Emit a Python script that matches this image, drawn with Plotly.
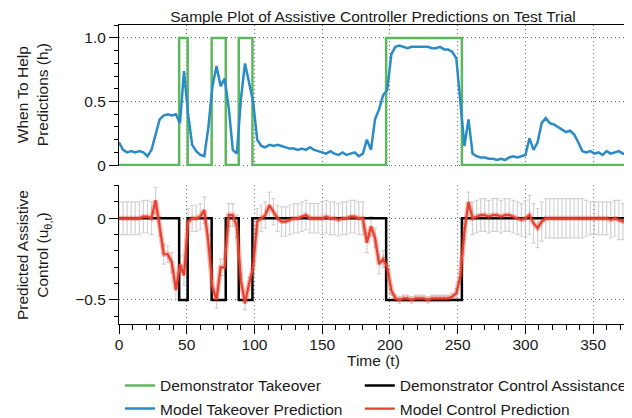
"""Sample plot of assistive controller predictions on a test trial."""

import plotly.graph_objects as go

_C_GREEN = "#5cb85c"
_C_BLUE = "#2a8bc8"
_C_RED = "#e5412f"
_C_RED_HALO = "rgba(229, 65, 47, 0.35)"
_C_BLACK = "#000000"
_C_ERR = "rgba(195, 195, 195, 0.75)"
_C_GRID = "#6e6e6e"
_FONT = dict(family="Liberation Sans, Arial, sans-serif", size=15.5, color="#1a1a1a")

# time steps (every 3rd sample of the trial)
t = list(range(0, 376, 3))

# when-to-help prediction h_t
takeover_pred = [
    0.18, 0.12, 0.10, 0.11, 0.10, 0.11, 0.10, 0.07, 0.12, 0.25,
    0.36, 0.39, 0.40, 0.39, 0.40, 0.33, 0.74, 0.40, 0.16, 0.11,
    0.08, 0.07, 0.30, 0.62, 0.78, 0.62, 0.68, 0.45, 0.12, 0.09,
    0.52, 0.80, 0.65, 0.50, 0.20, 0.15, 0.14, 0.16, 0.15, 0.16,
    0.15, 0.14, 0.13, 0.13, 0.12, 0.13, 0.12, 0.14, 0.12, 0.11,
    0.10, 0.09, 0.11, 0.09, 0.08, 0.10, 0.08, 0.09, 0.10, 0.07,
    0.09, 0.20, 0.12, 0.36, 0.44, 0.55, 0.59, 0.87, 0.93, 0.94,
    0.93, 0.92, 0.93, 0.93, 0.93, 0.93, 0.93, 0.92, 0.92, 0.93,
    0.91, 0.91, 0.89, 0.84, 0.46, 0.15, 0.36, 0.09, 0.07, 0.06,
    0.06, 0.05, 0.05, 0.04, 0.05, 0.04, 0.06, 0.07, 0.06, 0.07,
    0.08, 0.21, 0.12, 0.18, 0.33, 0.37, 0.33, 0.32, 0.30, 0.28,
    0.26, 0.27, 0.24, 0.18, 0.11, 0.10, 0.11, 0.09, 0.10, 0.08,
    0.11, 0.09, 0.10, 0.11, 0.09, 0.09,
]

# predicted assistive control u_theta,t and its spread
control_pred = [
    0.00, 0.00, 0.00, 0.00, 0.00, 0.00, 0.01, 0.01, 0.00, 0.11,
    -0.05, -0.22, -0.22, -0.27, -0.44, -0.28, -0.35, -0.02, 0.00, 0.00,
    0.01, 0.05, -0.15, -0.42, -0.50, -0.30, -0.30, 0.02, 0.02, -0.05,
    -0.38, -0.52, -0.40, -0.30, -0.02, 0.00, 0.02, 0.08, 0.04, 0.00,
    -0.02, -0.02, -0.01, 0.00, 0.00, 0.01, 0.02, 0.00, 0.00, 0.00,
    0.00, 0.01, 0.00, 0.00, -0.01, 0.00, 0.00, 0.01, 0.01, 0.00,
    0.00, -0.15, -0.05, -0.12, -0.28, -0.25, -0.30, -0.44, -0.49, -0.50,
    -0.49, -0.49, -0.50, -0.49, -0.49, -0.49, -0.50, -0.49, -0.49, -0.49,
    -0.49, -0.49, -0.48, -0.46, -0.35, -0.08, 0.10, 0.00, 0.01, 0.02,
    0.02, 0.01, 0.02, 0.02, 0.01, 0.02, 0.02, 0.01, 0.00, -0.01,
    0.00, 0.02, -0.03, -0.06, -0.02, 0.00, 0.00, 0.00, 0.00, 0.00,
    0.00, 0.00, 0.00, 0.00, 0.00, 0.00, 0.00, 0.00, 0.00, 0.00,
    0.00, -0.01, 0.00, -0.01, -0.02, 0.00,
]
control_err = [
    0.10, 0.10, 0.10, 0.10, 0.10, 0.10, 0.10, 0.10, 0.10, 0.08,
    0.06, 0.06, 0.05, 0.06, 0.06, 0.05, 0.06, 0.08, 0.08, 0.08,
    0.08, 0.08, 0.05, 0.05, 0.05, 0.05, 0.05, 0.07, 0.07, 0.07,
    0.04, 0.04, 0.04, 0.04, 0.08, 0.08, 0.08, 0.08, 0.08, 0.08,
    0.09, 0.09, 0.09, 0.09, 0.09, 0.09, 0.09, 0.09, 0.09, 0.09,
    0.10, 0.10, 0.10, 0.10, 0.10, 0.10, 0.10, 0.10, 0.10, 0.10,
    0.10, 0.06, 0.06, 0.06, 0.06, 0.05, 0.05, 0.03, 0.02, 0.02,
    0.02, 0.02, 0.02, 0.02, 0.02, 0.02, 0.02, 0.02, 0.02, 0.02,
    0.02, 0.02, 0.02, 0.03, 0.05, 0.05, 0.06, 0.10, 0.10, 0.10,
    0.10, 0.10, 0.10, 0.10, 0.10, 0.10, 0.10, 0.10, 0.10, 0.10,
    0.11, 0.12, 0.12, 0.12, 0.12, 0.12, 0.12, 0.12, 0.12, 0.12,
    0.12, 0.12, 0.12, 0.12, 0.12, 0.11, 0.10, 0.10, 0.10, 0.10,
    0.10, 0.11, 0.11, 0.12, 0.11, 0.10,
]

# demonstrator step signals (switch times)
demo_t = [0, 44.4, 50.7, 68.4, 78.8, 88.4, 98.5, 197.2, 253.1, 375]
demo_takeover = [0, 1, 0, 1, 0, 1, 0, 1, 0, 0]
demo_control = [0, -0.5, 0, -0.5, 0, -0.5, 0, -0.5, 0, 0]

fig = go.Figure()

fig.add_trace(go.Scatter(
    x=demo_t, y=demo_takeover, name="Demonstrator Takeover", legend="legend",
    mode="lines", line=dict(color=_C_GREEN, width=2.5, shape="hv"),
    xaxis="x", yaxis="y",
))
fig.add_trace(go.Scatter(
    x=t, y=takeover_pred, name="Model Takeover Prediction", legend="legend",
    mode="lines", line=dict(color=_C_BLUE, width=2.5),
    xaxis="x", yaxis="y",
))
# spread of the control prediction (drawn under the lines)
fig.add_trace(go.Scatter(
    x=t, y=control_pred, mode="markers", showlegend=False, hoverinfo="skip",
    marker=dict(size=1, color="rgba(0,0,0,0)"),
    error_y=dict(type="data", array=control_err, color=_C_ERR, thickness=1.2, width=2),
    xaxis="x2", yaxis="y2",
))
fig.add_trace(go.Scatter(
    x=demo_t, y=demo_control, name="Demonstrator Control Assistance", legend="legend2",
    mode="lines", line=dict(color=_C_BLACK, width=2.5, shape="hv"),
    xaxis="x2", yaxis="y2",
))
# soft halo under the control prediction
fig.add_trace(go.Scatter(
    x=t, y=control_pred, mode="lines", showlegend=False, hoverinfo="skip",
    line=dict(color=_C_RED_HALO, width=5),
    xaxis="x2", yaxis="y2",
))
fig.add_trace(go.Scatter(
    x=t, y=control_pred, name="Model Control Prediction", legend="legend2",
    mode="lines", line=dict(color=_C_RED, width=2.2),
    xaxis="x2", yaxis="y2",
))

_grid = dict(showgrid=True, gridcolor=_C_GRID, griddash="1px,3px", gridwidth=1, zeroline=False)
_legend = dict(
    orientation="v", xanchor="left", y=-0.15, yanchor="top",
    traceorder="normal", font=dict(size=15.5), bgcolor="rgba(0,0,0,0)",
    tracegroupgap=0, itemwidth=30,
)

# page body adds 8px of margin, so the figure is 8px smaller than the window
fig.update_layout(
    width=624, height=410,
    template="none",
    plot_bgcolor="white", paper_bgcolor="white",
    font=_FONT,
    margin=dict(l=111, r=5, t=17, b=94, autoexpand=False),
    title=dict(
        text="Sample Plot of Assistive Controller Predictions on Test Trial",
        x=0.5, xref="paper", xanchor="center", y=0.980, yanchor="middle",
        font=dict(size=15.5),
    ),
    xaxis=dict(
        domain=[0, 1], range=[0, 375], anchor="y", side="top",
        tickvals=[50, 100, 150, 200, 250, 300, 350], showticklabels=False, ticks="",
        showline=True, linecolor="#000", linewidth=1, **_grid,
    ),
    yaxis=dict(
        domain=[0.528, 1], range=[-0.008, 1.102], anchor="x",
        tickvals=[0, 0.5, 1.0], ticktext=["0", "0.5", "1.0"],
        ticks="outside", ticklen=9, tickcolor="#000", ticklabelstandoff=0,
        minor=dict(dtick=0.1, tick0=0, ticks="outside", ticklen=4, tickcolor="#000", showgrid=False),
        showline=True, linecolor="#000", linewidth=1, **_grid,
    ),
    xaxis2=dict(
        domain=[0, 1], range=[0, 375], anchor="y2",
        tickvals=[0, 50, 100, 150, 200, 250, 300, 350],
        ticks="outside", ticklen=9, tickcolor="#000", ticklabelstandoff=-3,
        minor=dict(dtick=10, tick0=0, ticks="outside", ticklen=5, tickcolor="#000", showgrid=False),
        showline=True, linecolor="#000", linewidth=1, **_grid,
    ),
    yaxis2=dict(
        domain=[0, 0.465], range=[-0.647, 0.204], anchor="x2",
        tickvals=[-0.5, 0], ticktext=["\u22120.5", "0"],
        ticks="outside", ticklen=9, tickcolor="#000", ticklabelstandoff=0,
        minor=dict(dtick=0.1, tick0=0, ticks="outside", ticklen=4, tickcolor="#000", showgrid=False),
        showline=True, linecolor="#000", linewidth=1, **_grid,
    ),
    legend=dict(x=0.002, **_legend),
    legend2=dict(x=0.474, **_legend),
    showlegend=True,
)

# right-hand border of the lower panel
fig.add_shape(type="line", xref="paper", yref="paper", x0=1, x1=1, y0=0, y1=0.528,
              line=dict(color="#000", width=1))

fig.add_annotation(text="Time (t)", xref="paper", yref="paper", x=0.5, y=-0.121,
                   showarrow=False, yanchor="middle", font=dict(size=15.5))
fig.add_annotation(text="When To Help<br>Predictions (h<sub>t</sub>)", xref="paper", yref="paper",
                   x=-0.167, y=0.766, textangle=-90, showarrow=False,
                   xanchor="center", yanchor="middle", font=dict(size=15.5))
fig.add_annotation(text="Predicted Assistive<br>Control (u<sub>\u03b8,t</sub>)", xref="paper", yref="paper",
                   x=-0.167, y=0.231, textangle=-90, showarrow=False,
                   xanchor="center", yanchor="middle", font=dict(size=15.5))

fig.write_html("out.html")
